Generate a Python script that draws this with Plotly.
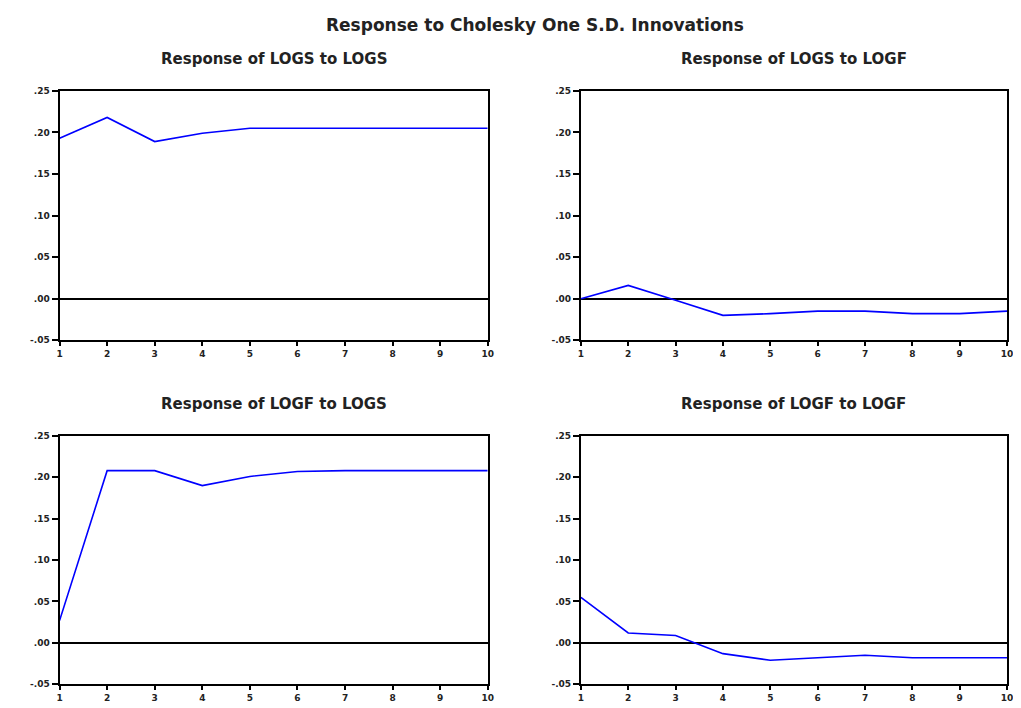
import plotly.graph_objects as go

periods = [1, 2, 3, 4, 5, 6, 7, 8, 9, 10]
logs_to_logs = [0.193, 0.218, 0.189, 0.199, 0.205, 0.205, 0.205, 0.205, 0.205, 0.205]
logs_to_logf = [0.000, 0.016, -0.002, -0.020, -0.018, -0.015, -0.015, -0.018, -0.018, -0.015]
logf_to_logs = [0.027, 0.208, 0.208, 0.190, 0.201, 0.207, 0.208, 0.208, 0.208, 0.208]
logf_to_logf = [0.055, 0.012, 0.009, -0.013, -0.021, -0.018, -0.015, -0.018, -0.018, -0.018]

y_tickvals = [-0.05, 0.00, 0.05, 0.10, 0.15, 0.20, 0.25]
y_ticktext = ["-.05", ".00", ".05", ".10", ".15", ".20", ".25"]
x_ticktext = [str(p) for p in periods]

main_title = "Response to Cholesky One S.D. Innovations"
panel_titles = ["Response of LOGS to LOGS", "Response of LOGS to LOGF",
                "Response of LOGF to LOGS", "Response of LOGF to LOGF"]
series = [logs_to_logs, logs_to_logf, logf_to_logs, logf_to_logf]

# the plot div sits 8px (body margin) inside the browser window
OX, OY = 8, 8
W, H = 1021 - OX, 708 - OY


def px(x):
    return (x - OX) / W


def py(y):
    return 1 - (y - OY) / H


x_domains = [[px(57), px(489)], [px(583), px(1013)]]
y_domains = [[py(340), py(87)], [py(689), py(437)]]

fig = go.Figure()
tickfont = dict(family="DejaVu Sans", size=9, color="#222", weight="bold")
annotations = []
for i, (vals, title) in enumerate(zip(series, panel_titles)):
    r, c = divmod(i, 2)
    n = "" if i == 0 else str(i + 1)
    fig.add_trace(go.Scatter(x=periods, y=vals, mode="lines",
                             line=dict(color="#0000ff", width=1.6),
                             xaxis="x" + n, yaxis="y" + n, showlegend=False))
    fig.update_layout(**{
        "xaxis" + n: dict(domain=x_domains[c], anchor="y" + n, range=[1, 10],
                          tickvals=periods, ticktext=x_ticktext, ticks="outside",
                          ticklen=4, tickwidth=1.5, tickcolor="black",
                          ticklabeloverflow="allow",
                          showline=True, linecolor="black", linewidth=2, mirror=True,
                          showgrid=False, zeroline=False, tickfont=tickfont),
        "yaxis" + n: dict(domain=y_domains[r], anchor="x" + n, range=[-0.05, 0.25],
                          tickvals=y_tickvals, ticktext=y_ticktext, ticks="outside",
                          ticklen=6, tickwidth=1.5, tickcolor="black",
                          showline=True, linecolor="black", linewidth=2, mirror=True,
                          showgrid=False, zeroline=True, zerolinecolor="black",
                          zerolinewidth=1.5, tickfont=tickfont),
    })
    xc = (x_domains[c][0] + x_domains[c][1]) / 2
    ytitle = py(55 if r == 0 else 405)
    annotations.append(dict(text=title, x=xc, y=ytitle, xref="paper", yref="paper",
                            xanchor="center", yanchor="middle", showarrow=False,
                            font=dict(family="DejaVu Sans", size=15, color="#222", weight="bold")))

annotations.append(dict(text=main_title, x=px(537), y=py(20), xref="paper", yref="paper",
                        xanchor="center", yanchor="middle", showarrow=False,
                        font=dict(family="DejaVu Sans", size=17, color="#222", weight="bold")))

fig.update_layout(width=W, height=H, margin=dict(l=0, r=0, t=0, b=0),
                  paper_bgcolor="white", plot_bgcolor="white",
                  annotations=annotations)

fig.write_html("out.html")
